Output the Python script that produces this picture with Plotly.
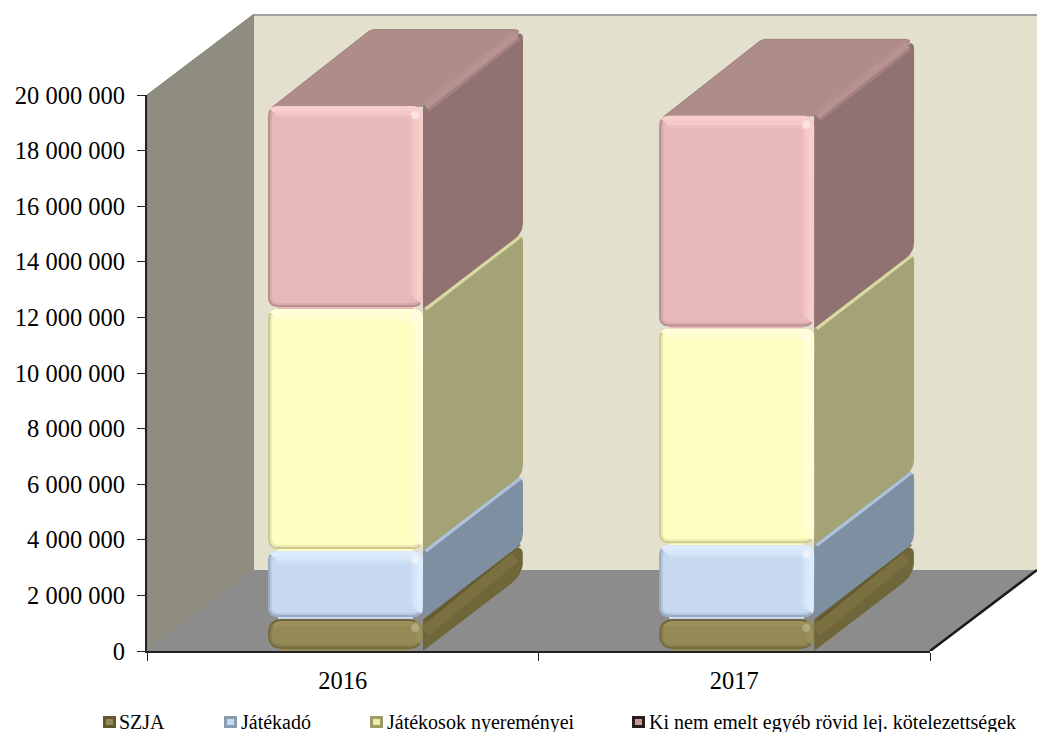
import plotly.graph_objects as go

# ---------- data ----------
YEARS = ["2016", "2017"]
SERIES_NAMES = ["SZJA", "Játékadó", "Játékosok nyereményei", "Ki nem emelt egyéb rövid lej. kötelezettségek"]
SZJA = [1150000, 1150000]
JATEKADO = [2450000, 2650000]
NYEREMENYEK = [8700000, 7800000]
EGYEB = [7300000, 7650000]
Y_TICKS = [0, 2000000, 4000000, 6000000, 8000000, 10000000, 12000000, 14000000, 16000000, 18000000, 20000000]
Y_LABELS = ["0", "2 000 000", "4 000 000", "6 000 000", "8 000 000", "10 000 000",
            "12 000 000", "14 000 000", "16 000 000", "18 000 000", "20 000 000"]

# ---------- geometry (pixels per data unit, plot frame) ----------
W, H = 1038, 732
L, R, T, B = 147, 1, 14, 81
PW, PH = W - L - R, H - T - B
PXX = 391.5            # px per category
PXY = 27.8 / 1e6       # px per value
XR = [0, PW / PXX]
YR = [0, PH / PXY]
WALL_DX, WALL_DY = 107 / PXX, 81 / PXY
BAR_DX, BAR_DY = 100 / PXX, 76.5 / PXY
BAR_W = 155 / PXX
CENTERS = [0.507, 1.506]

STYLES = [
    dict(face="#948A55", side="#6F673A", ridge="#7E7342", hi="#A39962", edge="#5F5830", radius=14),
    dict(face="#C6D9F1", side="#7F8FA2", ridge="#AEC2DE", hi="#DFEDFF", edge="#7F8FA3", radius=10),
    dict(face="#FFFDBF", side="#A3A377", ridge="#DADAA0", hi="#FFFFDA", edge="#A8A778", radius=10),
    dict(face="#E6B8B7", side="#917272", ridge="#BD9595", hi="#FAD0CF", edge="#9A7676", radius=10, top="#AD8C8A"),
]
CORNER_N = 7


def rounded(points, radii, n=CORNER_N):
    """Round polygon corners, working in pixel space, return data coordinates."""
    pts = [(x * PXX, y * PXY) for x, y in points]
    out = []
    m = len(pts)
    for i, p in enumerate(pts):
        a, c = pts[i - 1], pts[(i + 1) % m]
        r = radii[i]
        if r <= 0:
            out.append(p)
            continue
        da = ((a[0] - p[0]) ** 2 + (a[1] - p[1]) ** 2) ** 0.5
        dc = ((c[0] - p[0]) ** 2 + (c[1] - p[1]) ** 2) ** 0.5
        ra, rc = min(r, da / 2), min(r, dc / 2)
        s = (p[0] + (a[0] - p[0]) * ra / da, p[1] + (a[1] - p[1]) * ra / da)
        e = (p[0] + (c[0] - p[0]) * rc / dc, p[1] + (c[1] - p[1]) * rc / dc)
        for k in range(n + 1):
            t = k / n
            out.append(((1 - t) ** 2 * s[0] + 2 * t * (1 - t) * p[0] + t ** 2 * e[0],
                        (1 - t) ** 2 * s[1] + 2 * t * (1 - t) * p[1] + t ** 2 * e[1]))
    out.append(out[0])
    return [q[0] / PXX for q in out], [q[1] / PXY for q in out]


fig = go.Figure()


def poly(xs, ys, color, line=None, lw=0):
    fig.add_trace(go.Scatter(
        x=xs, y=ys, mode="lines", fill="toself", fillcolor=color,
        line=dict(color=line or color, width=lw), hoverinfo="skip", showlegend=False,
        xaxis="x", yaxis="y"))


def stroke(xs, ys, color, width, over=True, opacity=1.0):
    fig.add_trace(go.Scatter(
        x=xs, y=ys, mode="lines", opacity=opacity, line=dict(color=color, width=width),
        hoverinfo="skip", showlegend=False,
        xaxis="x2" if over else "x", yaxis="y2" if over else "y"))


# ---------- walls and floor ----------
poly([0, WALL_DX, WALL_DX, 0, 0], [20e6, 20e6 + WALL_DY, WALL_DY, 0, 20e6], "#8F8D7F", line="#85847A", lw=1)
poly([WALL_DX, 2 + WALL_DX, 2 + WALL_DX, WALL_DX, WALL_DX],
     [WALL_DY, WALL_DY, 20e6 + WALL_DY, 20e6 + WALL_DY, WALL_DY], "#E3E0CE")
stroke([WALL_DX, 2 + WALL_DX], [20e6 + WALL_DY - 0.04e6] * 2, "#8E8E88", 1.5, over=False)
poly([0, 2, 2 + WALL_DX, WALL_DX, 0], [0, 0, WALL_DY, WALL_DY, 0], "#8C8C8C")
stroke([2, 2 + WALL_DX], [0, WALL_DY], "#1A1A1A", 2.5, over=False)

# ---------- 3D sides, top faces and rounded front silhouettes (from the data) ----------
VALUES = [SZJA, JATEKADO, NYEREMENYEK, EGYEB]
px_x, px_y = 1 / PXX, 1 / PXY
for c, cx in enumerate(CENTERS):
    x0, x1 = cx - BAR_W / 2, cx + BAR_W / 2
    base = 0
    tops = []
    for s, vals in enumerate(VALUES):
        tops.append((base, base + vals[c]))
        base += vals[c]
    for s, (y0, y1) in enumerate(tops):
        st = STYLES[s]
        r = st["radius"]
        if s == 3:
            tx, ty = rounded([(x0 + 3 * px_x, y1 - 2 * px_y), (x0 + BAR_DX + 3 * px_x, y1 + BAR_DY),
                              (x1 + BAR_DX, y1 + BAR_DY), (x1, y1)], [2, 4, 10, 0])
            poly(tx, ty, st["top"], line="#A0807F", lw=1)
        sx, sy = rounded([(x1, y1), (x1 + BAR_DX, y1 + BAR_DY), (x1 + BAR_DX, y0 + BAR_DY), (x1, y0)],
                         [0, r, r, 0])
        poly(sx, sy, st["side"])
        if s == 3:
            stroke([x1 + 3 * px_x, x1 + BAR_DX - 6 * px_x], [y1 - 1 * px_y, y1 + BAR_DY - 6 * px_y],
                   st["ridge"], 11, over=False, opacity=0.45)
            stroke([x1 + 3 * px_x, x1 + BAR_DX - 6 * px_x], [y1 - 1 * px_y, y1 + BAR_DY - 6 * px_y],
                   st["ridge"], 5, over=False, opacity=0.8)
        elif s == 0:
            stroke([x1 + 2 * px_x, x1 + BAR_DX - 8 * px_x], [y1 - 12 * px_y, y1 + BAR_DY - 14 * px_y],
                   st["ridge"], 12, over=False, opacity=0.8)
            stroke([x1 + 4 * px_x, x1 + BAR_DX - 3 * px_x], [y1 - 1 * px_y, y1 + BAR_DY - 2 * px_y],
                   st["edge"], 3, over=False, opacity=0.7)
        else:
            stroke([x1 + 2 * px_x, x1 + BAR_DX - 3 * px_x], [y1 + 0.5 * px_y, y1 + BAR_DY - 3 * px_y],
                   st["ridge"], 5, over=False)

# rounded front faces drawn after all sides of the column pair
for c, cx in enumerate(CENTERS):
    x0, x1 = cx - BAR_W / 2, cx + BAR_W / 2
    base = 0
    for s, vals in enumerate(VALUES):
        st = STYLES[s]
        y0, y1 = base, base + vals[c]
        base = y1
        r = st["radius"]
        fx, fy = rounded([(x0, y1), (x1, y1), (x1, y0 + 2 * px_y), (x0, y0 + 2 * px_y)], [r] * 4)
        poly(fx, fy, st["face"])

# ---------- flat stacked bars on the visible 0–20 000 000 axes ----------
for s, vals in enumerate(VALUES):
    fig.add_trace(go.Bar(x=CENTERS, y=vals, width=BAR_W - 2 * STYLES[s]["radius"] / PXX, name=SERIES_NAMES[s],
                         marker=dict(color=STYLES[s]["face"], line=dict(width=0)),
                         xaxis="x2", yaxis="y2", showlegend=False,
                         hovertemplate="%{y}<extra>" + SERIES_NAMES[s] + "</extra>"))

# ---------- soft bevels on the front faces ----------
mid = CORNER_N // 2
seg = CORNER_N + 1
for c, cx in enumerate(CENTERS):
    x0, x1 = cx - BAR_W / 2, cx + BAR_W / 2
    base = 0
    for s, vals in enumerate(VALUES):
        st = STYLES[s]
        y0, y1 = base, base + vals[c]
        base = y1
        r = st["radius"]

        def ring(d):
            return rounded([(x0 + d * px_x, y1 - d * px_y), (x1 - d * px_x, y1 - d * px_y),
                            (x1 - d * px_x, y0 + (2 + d) * px_y), (x0 + d * px_x, y0 + (2 + d) * px_y)],
                           [max(r - d, 2)] * 4)

        # lit top and right edges, three fading layers
        layers = [(11, 4, 0.3), (7, 5, 0.7), (2.5, 5, 0.95)] if s else [(5, 4, 0.4), (2.5, 3, 0.5)]
        for d, w, op in layers:
            rx, ry = ring(d)
            a, b = mid, 2 * seg + mid + 1
            stroke(rx[a:b], ry[a:b], st["hi"], w, opacity=op)
        # shaded left and bottom edges
        for d, w, op in [(1, 2, 0.6), (3, 2, 0.2)]:
            rx, ry = ring(d)
            a = 2 * seg + mid
            xs = rx[a:-1] + rx[:mid + 1]
            ys = ry[a:-1] + ry[:mid + 1]
            stroke(xs, ys, st["edge"], w, opacity=op)
        if s == 0:
            # the short bottom block also has a shaded upper rim
            rx, ry = ring(1)
            stroke(rx[mid:seg + mid], ry[mid:seg + mid], st["edge"], 2, opacity=0.75)
        fig.add_trace(go.Scatter(x=[x1 - 8 * px_x], y=[y1 - 9 * px_y], mode="markers",
                                 marker=dict(size=8, color="#FFF8F4", opacity=0.55 if s else 0.25, line=dict(width=0)),
                                 xaxis="x2", yaxis="y2", hoverinfo="skip", showlegend=False))

# ---------- legend (real text, keys placed in the bottom band) ----------
LEGEND_PX = [(103, 118), (224, 240), (370, 386), (632, 648)]
LEGEND_KEYS = [("#5F5830", "#968C58"), ("#8A9CB2", "#C6D9F1"), ("#9D9C68", "#EDEDB0"), ("#2A1F1F", "#C59A99")]
LEGEND_Y = 722


def paper_x(px):
    return (px - L) / PW


def paper_y(px):
    return (H - B - px) / PH


annotations, shapes = [], []
for (ix, tx), name, (out, inn) in zip(LEGEND_PX, SERIES_NAMES, LEGEND_KEYS):
    annotations.append(dict(text=name, x=paper_x(tx - 1), y=paper_y(LEGEND_Y), xref="paper", yref="paper",
                            xanchor="left", yanchor="middle", showarrow=False,
                            font=dict(family="Liberation Serif", size=20, color="#000000")))
    shapes.append(dict(type="rect", xref="paper", yref="paper", x0=paper_x(ix), x1=paper_x(ix + 13),
                       y0=paper_y(LEGEND_Y + 6), y1=paper_y(LEGEND_Y - 6), fillcolor=out, line=dict(width=0)))
    shapes.append(dict(type="rect", xref="paper", yref="paper", x0=paper_x(ix + 3), x1=paper_x(ix + 10),
                       y0=paper_y(LEGEND_Y + 3), y1=paper_y(LEGEND_Y - 3), fillcolor=inn, line=dict(width=0)))

TEXTFONT = dict(family="Liberation Serif", size=24.5, color="#000000")
fig.update_layout(
    width=W, height=H, margin=dict(l=L, r=R, t=T, b=B, pad=0),
    paper_bgcolor="#FFFFFF", plot_bgcolor="rgba(0,0,0,0)",
    barmode="stack", bargap=0, showlegend=False,
    annotations=annotations, shapes=shapes,
    xaxis=dict(range=XR, visible=False),
    yaxis=dict(range=YR, visible=False),
    xaxis2=dict(range=[0, 2], domain=[0, 2 * PXX / PW], anchor="y2",
                tickmode="array", tickvals=[0.5, 1.5], ticktext=YEARS, ticks="",
                showgrid=False, zeroline=False, showline=True, linecolor="#222222", linewidth=1.5,
                tickfont=TEXTFONT, ticklabelstandoff=7,
                minor=dict(tickmode="array", tickvals=[0, 1, 2], ticks="outside", ticklen=8,
                           tickcolor="#222222", tickwidth=1, showgrid=False)),
    yaxis2=dict(range=[0, 20e6], domain=[0, 20e6 * PXY / PH], anchor="x2",
                tickmode="array", tickvals=Y_TICKS, ticktext=Y_LABELS, ticks="outside",
                ticklen=8, tickcolor="#222222", tickwidth=1, showgrid=False, zeroline=False,
                showline=True, linecolor="#222222", linewidth=2,
                tickfont=TEXTFONT, ticklabelstandoff=7),
)

fig.write_html("out.html", post_script="document.body.style.margin='0';", config={"displayModeBar": False})
